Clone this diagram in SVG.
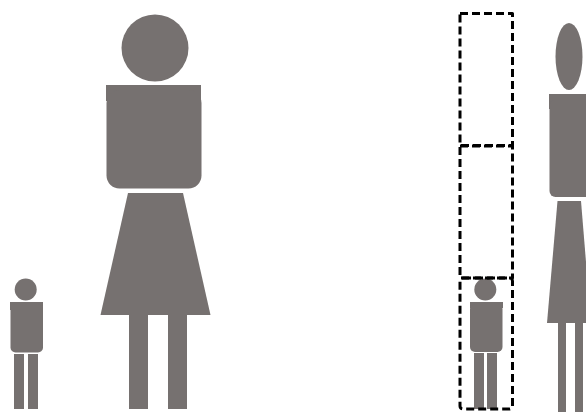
<svg xmlns="http://www.w3.org/2000/svg" width="586" height="412" viewBox="0 0 586 412">
<style>
.p{fill:#767170}
.d{fill:none;stroke:#000;stroke-width:3;stroke-dasharray:8 4;stroke-linejoin:round}
</style>
<rect width="586" height="412" fill="#fff"/>
<g id="adult-left">
<circle class="p" cx="155" cy="48" r="33.500"/>
<rect class="p" x="106" y="85" width="95" height="16"/>
<rect class="p" x="106.500" y="90" width="95" height="98.500" rx="13"/>
<path class="p" d="M128 193H183L210.500 315H100.500Z"/>
<rect class="p" x="129" y="315" width="19" height="94"/>
<rect class="p" x="168" y="315" width="19" height="94"/>
</g>
<g id="child-left">
<circle class="p" cx="25.700" cy="289.500" r="11"/>
<rect class="p" x="10" y="302" width="33" height="8"/>
<rect class="p" x="10.500" y="304" width="32.500" height="48.500" rx="5"/>
<rect class="p" x="14" y="354" width="10" height="55"/>
<rect class="p" x="28" y="354" width="10" height="55"/>
</g>
<g id="adult-right">
<ellipse class="p" cx="569" cy="56.500" rx="13.500" ry="33.500"/>
<rect class="p" x="549" y="94" width="37" height="15"/>
<rect class="p" x="549.500" y="100" width="42" height="97" rx="6"/>
<path class="p" d="M557.500 201H581L591 323H547Z"/>
<rect class="p" x="558" y="323" width="8" height="89"/>
<rect class="p" x="575" y="323" width="8" height="89"/>
</g>
<g id="child-right">
<circle class="p" cx="485.300" cy="289.500" r="11"/>
<rect class="p" x="470" y="302" width="33" height="6"/>
<rect class="p" x="470" y="304" width="32.500" height="48" rx="5"/>
<rect class="p" x="474" y="353" width="10" height="56"/>
<rect class="p" x="487" y="353" width="10" height="56"/>
</g>
<g id="boxes">
<rect class="d" x="460" y="13.500" width="52.500" height="132"/>
<rect class="d" x="460" y="146" width="52.500" height="132"/>
<rect class="d" x="460" y="278" width="52.500" height="131" rx="3"/>
</g>
</svg>
